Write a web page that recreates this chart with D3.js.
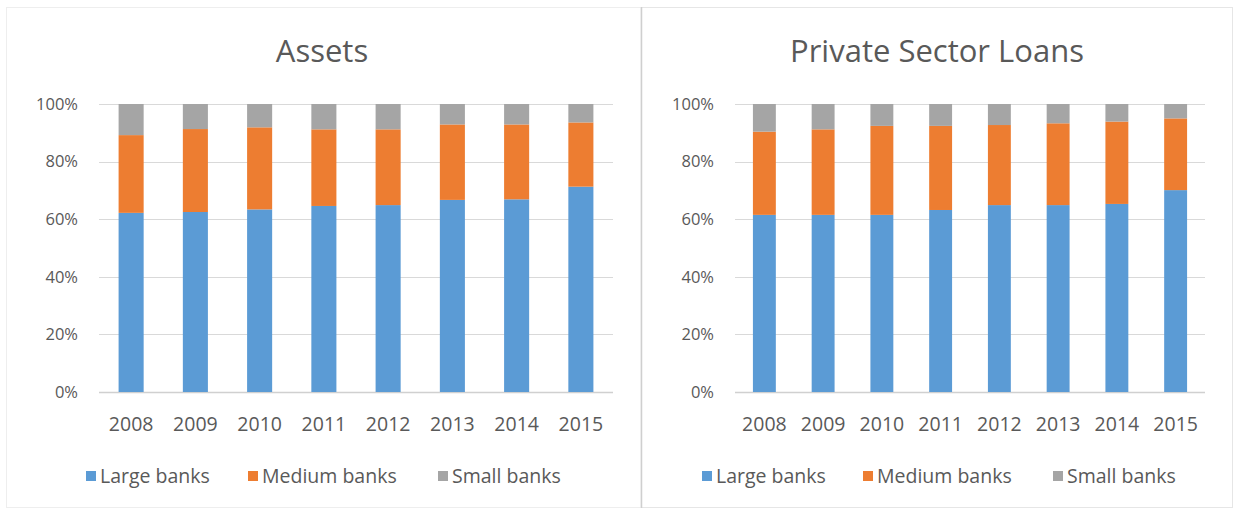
<!DOCTYPE html>
<html><head><meta charset="utf-8">
<script src="https://cdn.jsdelivr.net/npm/d3@7"></script>
<style>body{margin:0;background:#fff;}svg{display:block;}</style>
</head><body>
<svg id="c" width="1238" height="512"></svg>
<script>
const years = ["2008","2009","2010","2011","2012","2013","2014","2015"];
const seriesNames = ["Large banks","Medium banks","Small banks"];
const seriesColors = ["#5B9BD5","#ED7D31","#A5A5A5"];
const yTicks = [0,0.2,0.4,0.6,0.8,1.0];
// Assets shares
const assetsLarge  = [0.622,0.625,0.634,0.646,0.649,0.667,0.669,0.713];
const assetsMedium = [0.270,0.288,0.285,0.266,0.263,0.262,0.260,0.223];
const assetsSmall  = [0.108,0.087,0.081,0.088,0.088,0.071,0.071,0.064];
// Private sector loans shares
const loansLarge  = [0.615,0.615,0.615,0.632,0.649,0.649,0.653,0.701];
const loansMedium = [0.289,0.297,0.309,0.292,0.278,0.284,0.286,0.249];
const loansSmall  = [0.096,0.088,0.076,0.076,0.073,0.067,0.061,0.050];

const svg = d3.select("#c");
const font = "'Open Sans', Lato, sans-serif";
const txt = "#595959";

// frames
svg.append("rect").attr("x",6.5).attr("y",7.5).attr("width",634.5).attr("height",500)
  .attr("fill","none").attr("stroke","#eeeeee");
svg.append("rect").attr("x",641.5).attr("y",7.5).attr("width",591).attr("height",500)
  .attr("fill","none").attr("stroke","#e6e6e6");
svg.append("line").attr("x1",641.5).attr("x2",641.5).attr("y1",7).attr("y2",508)
  .attr("stroke","#cfcfcf").attr("stroke-width",1.5);

function drawChart(cfg){
  const g = svg.append("g");
  const x = d3.scaleBand().domain(years).range([cfg.x0,cfg.x1]).paddingInner(cfg.pad).paddingOuter(cfg.pad/2);
  const y = d3.scaleLinear().domain([0,1]).range([392,104]);
  // gridlines
  g.selectAll(".grid").data(yTicks).join("line")
    .attr("x1",cfg.x0).attr("x2",cfg.x1)
    .attr("y1",d=>Math.round(y(d))+0.5).attr("y2",d=>Math.round(y(d))+0.5)
    .attr("stroke",d=>d===0?"#d0d0d0":"#d9d9d9").attr("stroke-width",d=>d===0?1.5:1);
  // y axis labels
  const ya = d3.axisLeft(y).tickValues(yTicks).tickFormat(d3.format(".0%")).tickSize(0).tickPadding(0);
  const yg = g.append("g").attr("transform",`translate(${cfg.x0-21},0)`).call(ya);
  yg.select(".domain").remove();
  yg.selectAll("text").attr("fill",txt).style("font-family",font).style("font-size","16.5px");
  // x axis labels
  const xa = d3.axisBottom(x).tickSize(0).tickPadding(0);
  const xg = g.append("g").attr("transform",`translate(0,417)`).call(xa);
  xg.select(".domain").remove();
  xg.selectAll("text").attr("fill",txt).style("font-family",font).style("font-size","19.5px");
  // stacked bars
  const rows = years.map((yr,i)=>({year:yr, s0:cfg.data[0][i], s1:cfg.data[1][i], s2:cfg.data[2][i]}));
  const stack = d3.stack().keys(["s0","s1","s2"])(rows);
  stack.forEach((layer,li)=>{
    g.selectAll(".b"+li).data(layer).join("rect")
      .attr("x",d=>x(d.data.year)).attr("width",x.bandwidth())
      .attr("y",d=>y(Math.min(d[1],1))).attr("height",d=>y(d[0])-y(Math.min(d[1],1)))
      .attr("fill",seriesColors[li]);
  });
  // title
  g.append("text").attr("x",cfg.tx).attr("y",62).attr("text-anchor","middle")
    .attr("fill",txt).style("font-family",font).style("font-size","31px").text(cfg.title);
  // legend
  const lg = g.append("g");
  cfg.legend.forEach((lx,i)=>{
    lg.append("rect").attr("x",lx).attr("y",471).attr("width",10).attr("height",10).attr("fill",seriesColors[i]);
    lg.append("text").attr("x",lx+14).attr("y",483).attr("fill",txt)
      .style("font-family",font).style("font-size","19.5px").text(seriesNames[i]);
  });
}

drawChart({x0:99,x1:613,pad:0.61,tx:322,title:"Assets",
  data:[assetsLarge,assetsMedium,assetsSmall], legend:[86,248,438]});
drawChart({x0:735,x1:1205,pad:0.61,tx:937,title:"Private Sector Loans",
  data:[loansLarge,loansMedium,loansSmall], legend:[702,863,1053]});
</script>
</body></html>
